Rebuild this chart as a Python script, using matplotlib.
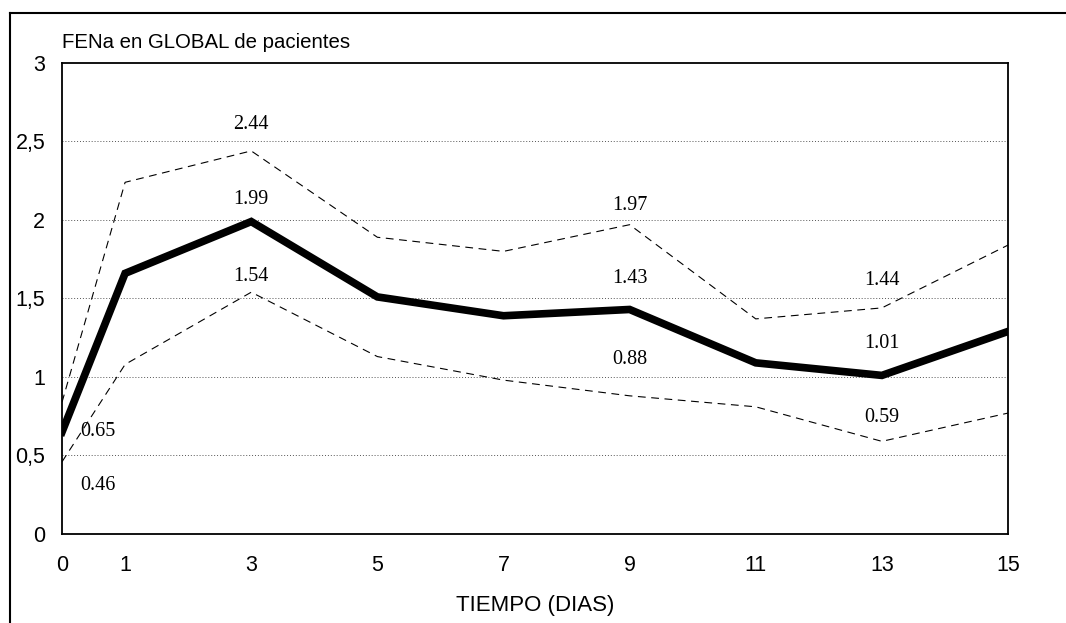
import matplotlib
matplotlib.use("Agg")
import matplotlib.pyplot as plt
from matplotlib.lines import Line2D

# FENa global, media +/- error
DIAS = [0, 1, 3, 5, 7, 9, 11, 13, 15]
MEDIA = [0.65, 1.66, 1.99, 1.51, 1.39, 1.43, 1.09, 1.01, 1.29]
SUPERIOR = [0.84, 2.24, 2.44, 1.89, 1.80, 1.97, 1.37, 1.44, 1.84]
INFERIOR = [0.46, 1.08, 1.54, 1.13, 0.98, 0.88, 0.81, 0.59, 0.77]
Y_TICKS = [0, 0.5, 1, 1.5, 2, 2.5, 3]
Y_LABELS = ["0", "0,5", "1", "1,5", "2", "2,5", "3"]

# which points carry a value label: (series, day) -> offset in points
ETIQUETAS = [
    ("MEDIA", 0, (26, 0)),
    ("INFERIOR", 0, (26, -17)),
    ("SUPERIOR", 3, (0, 19)),
    ("MEDIA", 3, (0, 16)),
    ("INFERIOR", 3, (0, 11)),
    ("SUPERIOR", 9, (0, 14)),
    ("MEDIA", 9, (0, 22)),
    ("INFERIOR", 9, (0, 26)),
    ("SUPERIOR", 13, (0, 20)),
    ("MEDIA", 13, (0, 23)),
    ("INFERIOR", 13, (0, 17)),
]

series = {"MEDIA": MEDIA, "SUPERIOR": SUPERIOR, "INFERIOR": INFERIOR}

fig = plt.figure(figsize=(10.66, 6.23), dpi=100)
ax = fig.add_axes([0.0582, 0.1429, 0.8874, 0.756])

for y in Y_TICKS[1:-1]:
    ax.axhline(y, color="#555555", linestyle=(0, (1, 2)), linewidth=0.7, zorder=1)

ax.plot(DIAS, SUPERIOR, color="black", linewidth=0.8, linestyle=(0, (7, 5)), zorder=2)
ax.plot(DIAS, INFERIOR, color="black", linewidth=0.8, linestyle=(0, (7, 5)), zorder=2)
ax.plot(DIAS, MEDIA, color="black", linewidth=5.5, solid_joinstyle="miter", zorder=3)

for name, dia, off in ETIQUETAS:
    v = series[name][DIAS.index(dia)]
    ax.annotate(f"{v:.2f}", (dia, v), xytext=off, textcoords="offset points",
                ha="center", va="center", fontsize=14.5, family="Liberation Serif",
                zorder=4)

ax.set_xlim(0, 15)
ax.set_ylim(0, 3)
ax.set_xticks(DIAS)
ax.set_xticklabels([str(d) for d in DIAS], fontsize=15.5, family="Liberation Sans")
ax.set_yticks(Y_TICKS)
ax.set_yticklabels(Y_LABELS, fontsize=15.5, family="Liberation Sans")
ax.tick_params(axis="both", length=0)
ax.tick_params(axis="x", pad=15)
ax.tick_params(axis="y", pad=12)
for s in ax.spines.values():
    s.set_linewidth(1.3)
ax.set_xlabel("TIEMPO (DIAS)", fontsize=16, family="Liberation Sans", labelpad=14)

fig.text(0.0582, 0.932, "FENa en GLOBAL de pacientes", fontsize=14.7,
         family="Liberation Sans", ha="left", va="center")

# outer frame (top and left only)
fig.add_artist(Line2D([10 / 1066, 1.0], [1 - 13 / 623] * 2, color="black",
                      linewidth=1.5, transform=fig.transFigure))
fig.add_artist(Line2D([10 / 1066] * 2, [0.0, 1 - 13 / 623], color="black",
                      linewidth=1.5, transform=fig.transFigure))

fig.savefig("out.png", dpi=100)
